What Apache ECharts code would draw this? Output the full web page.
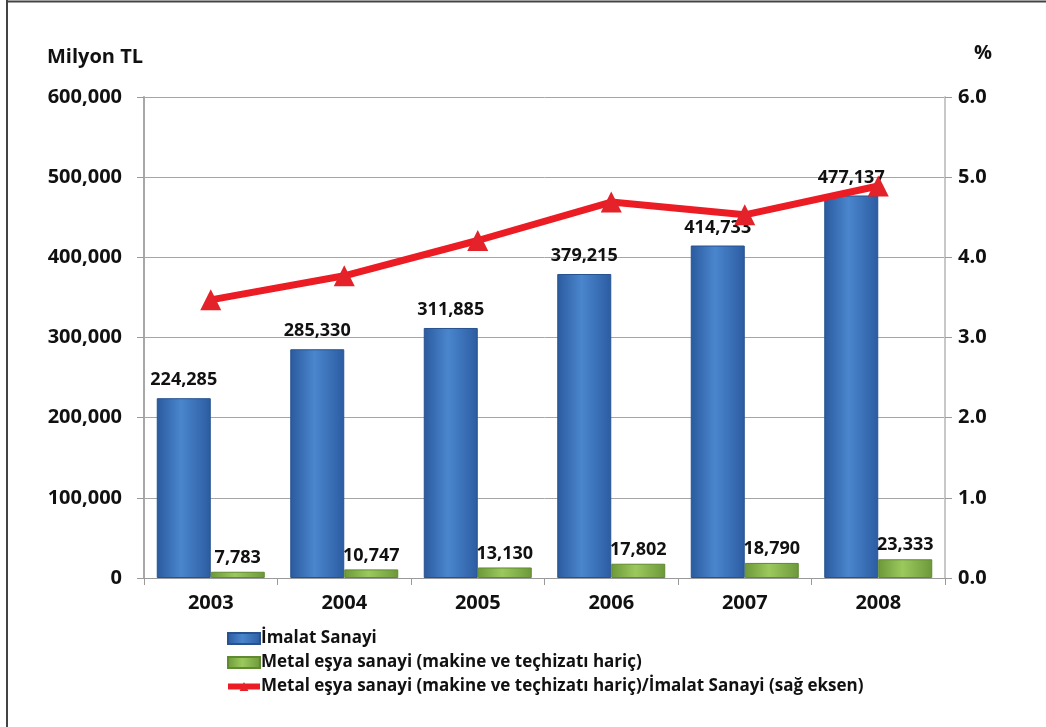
<!DOCTYPE html>
<html>
<head>
<meta charset="utf-8">
<script src="https://cdn.jsdelivr.net/npm/echarts@6/dist/echarts.min.js"></script>
<style>
  html, body { margin: 0; padding: 0; background: #fff; }
  #chart { width: 1046px; height: 727px; }
</style>
</head>
<body>
<div id="chart"></div>
<script>
// Years on the category axis
const years = ['2003', '2004', '2005', '2006', '2007', '2008'];
// Manufacturing industry output (million TL)
const imalatSanayi = [224285, 285330, 311885, 379215, 414733, 477137];
// Metal goods industry, excluding machinery and equipment (million TL)
const metalEsya = [7783, 10747, 13130, 17802, 18790, 23333];
// Share of metal goods in manufacturing (%), right axis
const oranYuzde = [3.47, 3.77, 4.21, 4.69, 4.53, 4.89];

const seriesNames = [
  'İmalat Sanayi',
  'Metal eşya sanayi (makine ve teçhizatı hariç)',
  'Metal eşya sanayi (makine ve teçhizatı hariç)/İmalat Sanayi (sağ eksen)'
];

const FONT = '"Open Sans", "DejaVu Sans", sans-serif';
const fmtThousands = v => String(v).replace(/\B(?=(\d{3})+(?!\d))/g, ',');

const chart = echarts.init(document.getElementById('chart'), null, { renderer: 'canvas' });

const blueFill = new echarts.graphic.LinearGradient(0, 0, 1, 0, [
  { offset: 0, color: '#2b5a9f' },
  { offset: 0.45, color: '#4a86cd' },
  { offset: 1, color: '#2c5ca2' }
]);
const greenFill = new echarts.graphic.LinearGradient(0, 0, 1, 0, [
  { offset: 0, color: '#6c9838' },
  { offset: 0.45, color: '#9cc95e' },
  { offset: 1, color: '#6d983a' }
]);

const labelStyle = {
  show: true,
  position: 'top',
  color: '#111',
  fontFamily: FONT,
  fontWeight: 'bold',
  fontSize: 18,
  formatter: p => fmtThousands(p.value)
};

chart.setOption({
  animation: false,
  backgroundColor: '#fff',
  textStyle: { fontFamily: FONT },
  grid: { left: 144, right: 101, top: 97, bottom: 149, containLabel: false },
  legend: {
    orient: 'vertical',
    left: 220,
    top: 625,
    itemGap: 7,
    itemWidth: 32,
    itemHeight: 11,
    textStyle: { fontFamily: FONT, fontWeight: 'bold', fontSize: 17, color: '#111', padding: [0, 0, 0, -4] },
    data: [
      { name: seriesNames[0], icon: 'rect' },
      { name: seriesNames[1], icon: 'rect' },
      { name: seriesNames[2], lineStyle: { width: 6, color: '#ec1c24' } }
    ]
  },
  xAxis: {
    type: 'category',
    data: years,
    axisLine: { show: true, lineStyle: { color: '#9a9a9a', width: 1 } },
    axisTick: { show: true, length: 7, lineStyle: { color: '#9a9a9a' } },
    axisLabel: { color: '#111', fontFamily: FONT, fontWeight: 'bold', fontSize: 20, margin: 15 }
  },
  yAxis: [
    {
      type: 'value',
      min: 0,
      max: 600000,
      interval: 100000,
      axisLine: { show: true, lineStyle: { color: '#a8a8a8', width: 2 } },
      axisTick: { show: true, length: 7, lineStyle: { color: '#9a9a9a' } },
      splitLine: { show: true, lineStyle: { color: '#a6a6a6', width: 1 } },
      axisLabel: {
        color: '#111', fontFamily: FONT, fontWeight: 'bold', fontSize: 20, margin: 22,
        formatter: v => fmtThousands(v)
      }
    },
    {
      type: 'value',
      min: 0,
      max: 6,
      interval: 1,
      position: 'right',
      axisLine: { show: true, lineStyle: { color: '#c8c8c8', width: 2 } },
      axisTick: { show: true, length: 7, lineStyle: { color: '#9a9a9a' } },
      splitLine: { show: false },
      axisLabel: {
        color: '#111', fontFamily: FONT, fontWeight: 'bold', fontSize: 20, margin: 13,
        formatter: v => v.toFixed(1)
      }
    }
  ],
  series: [
    {
      name: seriesNames[0],
      type: 'bar',
      data: imalatSanayi,
      barWidth: 54,
      barGap: '0%',
      itemStyle: { color: blueFill, borderColor: '#27528f', borderWidth: 1 },
      label: Object.assign({}, labelStyle, { distance: 9 }),
      z: 2
    },
    {
      name: seriesNames[1],
      type: 'bar',
      data: metalEsya,
      barWidth: 54,
      barGap: '0%',
      itemStyle: { color: greenFill, borderColor: '#5f8a2f', borderWidth: 1 },
      label: Object.assign({}, labelStyle, { distance: 5 }),
      z: 2
    },
    {
      name: seriesNames[2],
      type: 'line',
      yAxisIndex: 1,
      data: oranYuzde,
      symbol: 'triangle',
      symbolSize: 21,
      lineStyle: { color: '#ec1c24', width: 7 },
      itemStyle: { color: '#e4222a' },
      z: 5
    }
  ],
  graphic: [
    { type: 'line', shape: { x1: 7, y1: 0, x2: 7, y2: 727 }, style: { stroke: '#444', lineWidth: 2 } },
    { type: 'line', shape: { x1: 7, y1: 1.5, x2: 1046, y2: 1.5 }, style: { stroke: '#444', lineWidth: 2 } },
    {
      type: 'text', left: 47, top: 47,
      style: { text: 'Milyon TL', fill: '#111', font: 'bold 20px "Open Sans"' }
    },
    {
      type: 'text', left: 974, top: 43,
      style: { text: '%', fill: '#111', font: 'bold 20px "Open Sans"' }
    }
  ]
});
</script>
</body>
</html>
